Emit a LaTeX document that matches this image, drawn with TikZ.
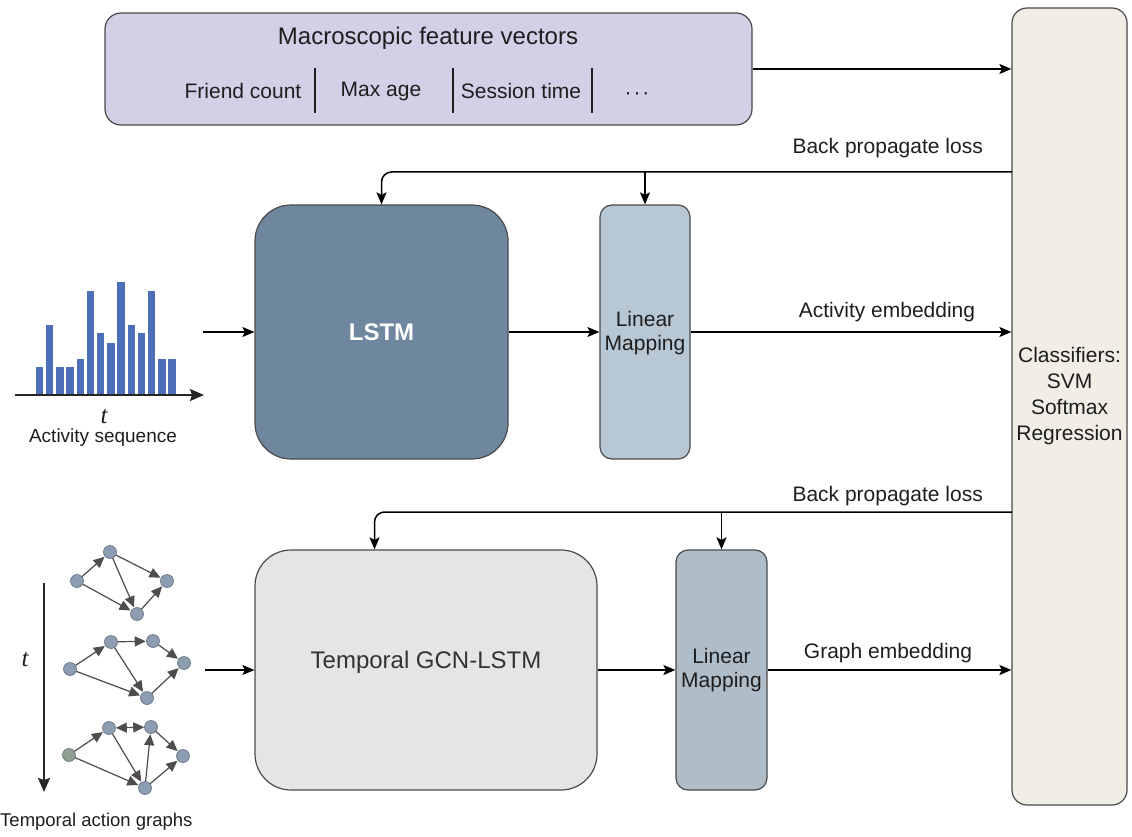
\documentclass[tikz,border=0pt]{standalone}
\usepackage{fontspec}
\setmainfont{Liberation Sans}
\newfontfamily\serifit{Liberation Serif}
\usetikzlibrary{arrows.meta,calc}

\definecolor{lav}{HTML}{D2D0E6}
\definecolor{slate}{HTML}{6E879F}
\definecolor{lmfill}{HTML}{B8C7D4}
\definecolor{gcnfill}{HTML}{E5E5E5}
\definecolor{clsfill}{HTML}{F1EEE6}
\definecolor{bordr}{HTML}{4A4A4A}
\definecolor{barblue}{HTML}{4C6FB7}
\definecolor{gnode}{HTML}{8C9DB2}
\definecolor{gnodeg}{HTML}{8E9E90}
\definecolor{gedge}{HTML}{4D4D4D}
\definecolor{txt}{HTML}{1E1E1E}

\begin{document}
\begin{tikzpicture}[x=1pt,y=-1pt,
  box/.style={draw=bordr,line width=1.2pt,inner sep=0pt},
  arr/.style={-{Stealth[length=12pt,width=10pt,inset=2.5pt]},line width=1.5pt,draw=black},
  lbl/.style={font=\fontsize{21}{25}\selectfont,text=txt,inner sep=0pt},
  gn/.style={circle,fill=gnode,draw=gnode!70!black,line width=0.6pt,minimum size=13pt,inner sep=0pt},
  ge/.style={-{Triangle[length=11pt,width=10pt]},line width=1.2pt,draw=gedge,fill=gedge,shorten >=0.5pt},
  gebi/.style={{Triangle[length=11pt,width=10pt]}-{Triangle[length=11pt,width=10pt]},line width=1.2pt,draw=gedge,fill=gedge},
  axisarr/.style={-{Stealth[length=14pt,width=12pt,inset=2pt]},line width=1.8pt,draw=black!85},
]
\useasboundingbox (0,0) rectangle (1132,837);

% ---------- top feature box ----------
\node[box,fill=lav,rounded corners=16pt,minimum width=647pt,minimum height=112pt] (top) at (428.5,69) {};
\node[lbl,font=\fontsize{24}{28}\selectfont] (title) at (428,38) {Macroscopic feature vectors};
\node[lbl] (f1) at (243,91) {Friend count};
\node[lbl] (f2) at (381,91) {Max age};
\node[lbl] (f3) at (521,91) {Session time};
\node[lbl] (f4) at (637,96) {·\kern2pt·\kern2pt·};
\draw[line width=1.2pt,draw=txt] (315,68) -- (315,113);
\draw[line width=1.2pt,draw=txt] (453,68) -- (453,113);
\draw[line width=1.2pt,draw=txt] (592,68) -- (592,113);

% ---------- classifier ----------
\node[box,fill=clsfill,rounded corners=15pt,minimum width=115pt,minimum height=797pt] (cls) at (1069.5,406.5) {};
\node[lbl,align=center,font=\fontsize{21}{26}\selectfont] (clstext) at (1069.5,396) {Classifiers:\\SVM\\Softmax\\Regression};

% ---------- LSTM branch ----------
\node[box,fill=slate,rounded corners=36pt,minimum width=253pt,minimum height=254pt] (lstm) at (381.5,332) {};
\node[font=\bfseries\fontsize{24}{28}\selectfont,text=white] (lstmtext) at (381.5,332) {LSTM};
\node[box,fill=lmfill,rounded corners=12pt,minimum width=90pt,minimum height=254pt] (lm1) at (645,332) {};
\node[lbl,align=center,font=\fontsize{21}{24}\selectfont] (lm1text) at (645,333) {Linear\\Mapping};

% ---------- GCN branch ----------
\node[box,fill=gcnfill,rounded corners=36pt,minimum width=342pt,minimum height=240pt] (gcn) at (426,670) {};
\node[lbl,font=\fontsize{24}{28}\selectfont,text=black!80] (gcntext) at (426,662) {Temporal GCN-LSTM};
\node[box,fill=lmfill!95!black,rounded corners=12pt,minimum width=91pt,minimum height=240pt] (lm2) at (721.5,670) {};
\node[lbl,align=center,font=\fontsize{21}{24}\selectfont] (lm2text) at (721.5,670) {Linear\\Mapping};

% ---------- main arrows ----------
\draw[arr] (top.east) -- (top.east -| cls.west);
\draw[arr] (lstm.east) -- (lm1.west);
\draw[arr] (lm1.east) -- (lm1.east -| cls.west);
\node[lbl] (actemb) at (887,312) {Activity embedding};
\draw[arr] (gcn.east) -- (lm2.west);
\draw[arr] (lm2.east) -- (lm2.east -| cls.west);
\node[lbl] (graphemb) at (888,653) {Graph embedding};

% back propagation
\coordinate (bp1) at (1012,172);
\draw[arr,rounded corners=10pt] (bp1) -- (bp1 -| lstm.north) -- (lstm.north);
\draw[arr] (bp1 -| lm1.north) -- (lm1.north);
\node[lbl,anchor=east] (bpl1) at (983,148) {Back propagate loss};

\coordinate (bp2) at (1012,512);
\coordinate (gin) at ($(gcn.north west)!0.35!(gcn.north east)$);
\draw[arr,rounded corners=10pt] (bp2) -- (bp2 -| gin) -- (gin);
\draw[arr] (bp2 -| lm2.north) -- (lm2.north);
\node[lbl,anchor=east] (bpl2) at (983,496) {Back propagate loss};

% ---------- activity sequence chart ----------
\foreach \i/\tp in {0/367,1/325,2/367,3/367,4/359,5/291,6/333,7/343,8/282,9/325,10/333,11/291,12/359,13/359}{
  \fill[barblue] (35.7+10.2*\i,394) rectangle (43.2+10.2*\i,\tp);
}
\draw[axisarr] (15,395) -- (204,395);
\node[font=\serifit\itshape\fontsize{25}{25}\selectfont,text=txt] (tlab1) at (104,417) {t};
\node[lbl,font=\fontsize{19}{22}\selectfont] (actseq) at (103,438) {Activity sequence};
\coordinate (chartout) at (203,332);
\draw[arr] (chartout) -- (chartout -| lstm.west);

% ---------- temporal action graphs ----------
\draw[axisarr] (44,583) -- (44,792);
\node[font=\serifit\itshape\fontsize{25}{25}\selectfont,text=txt] (tlab2) at (25,660) {t};
\node[lbl,anchor=west,font=\fontsize{18.5}{22}\selectfont] (tag) at (0,822) {Temporal action graphs};
\coordinate (graphout) at (205,670);
\draw[arr] (graphout) -- (gcn.west);

% graph 1
\node[gn] (a1) at (77,581) {};
\node[gn] (b1) at (110,552) {};
\node[gn] (d1) at (167,581) {};
\node[gn] (e1) at (137,614) {};
\draw[ge] (a1) -- (b1);
\draw[ge] (b1) -- (d1);
\draw[ge] (b1) -- (e1);
\draw[ge] (a1) -- (e1);
\draw[ge] (e1) -- (d1);

% graph 2
\node[gn] (a2) at (70,669) {};
\node[gn] (b2) at (111,642) {};
\node[gn] (c2) at (153,641) {};
\node[gn] (d2) at (184,663) {};
\node[gn] (e2) at (147,698) {};
\draw[ge] (a2) -- (b2);
\draw[ge] (b2) -- (c2);
\draw[ge] (c2) -- (d2);
\draw[ge] (a2) -- (e2);
\draw[ge] (b2) -- (e2);
\draw[ge] (e2) -- (d2);

% graph 3
\node[gn,fill=gnodeg] (a3) at (69,755) {};
\node[gn] (b3) at (109,728) {};
\node[gn] (c3) at (151,727) {};
\node[gn] (d3) at (183,756) {};
\node[gn] (e3) at (145,788) {};
\draw[ge] (a3) -- (b3);
\draw[gebi] (b3) -- (c3);
\draw[ge] (c3) -- (d3);
\draw[ge] (a3) -- (e3);
\draw[ge] (b3) -- (e3);
\draw[ge] (e3) -- (c3);
\draw[ge] (e3) -- (d3);
\end{tikzpicture}
\end{document}
